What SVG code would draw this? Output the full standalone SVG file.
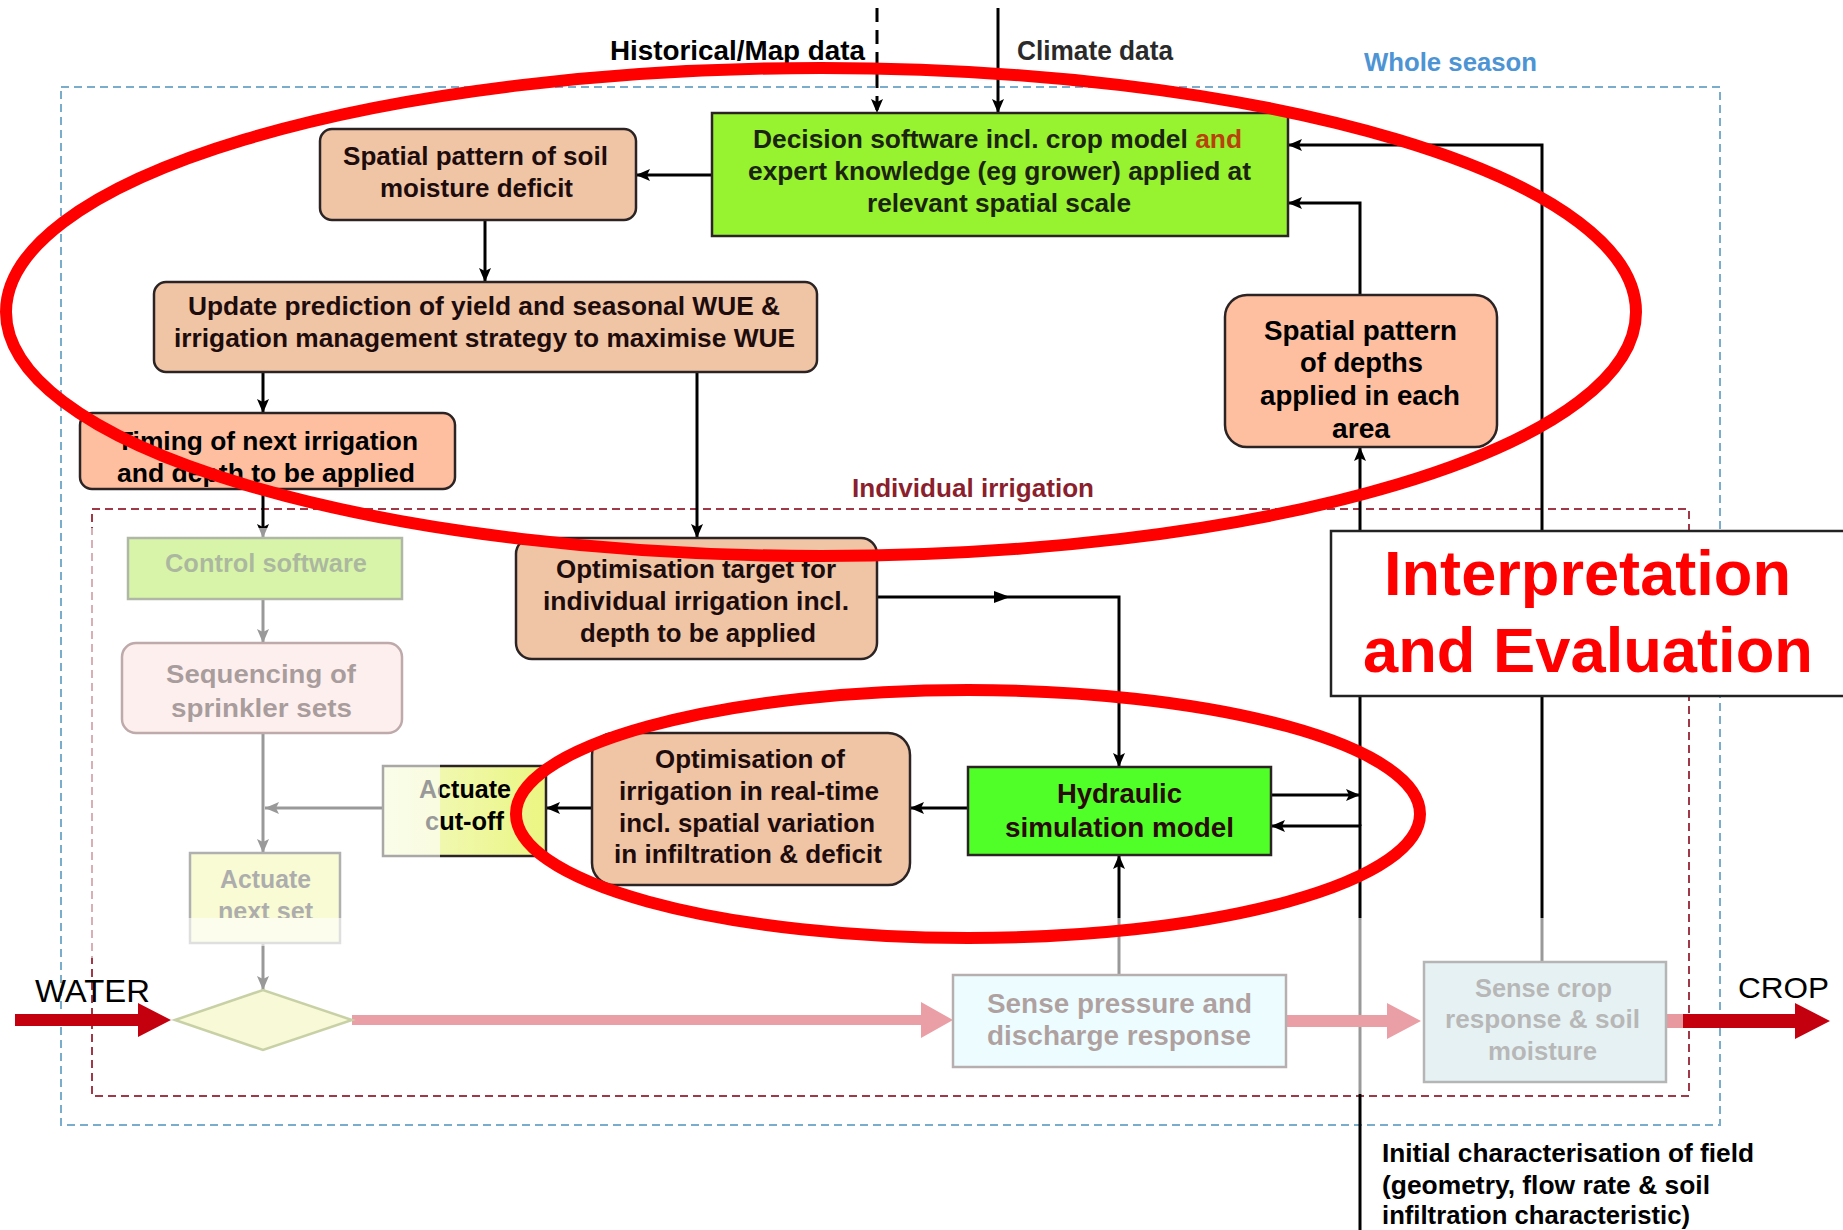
<svg xmlns="http://www.w3.org/2000/svg" width="1843" height="1230" viewBox="0 0 1843 1230">
  <defs>
    <marker id="ah" viewBox="0 0 14 12" refX="14" refY="6" markerWidth="14" markerHeight="12" markerUnits="userSpaceOnUse" orient="auto">
      <path d="M0,0 L14,6 L0,12 L3,6 z" fill="#000"/>
    </marker>
    <linearGradient id="yel" x1="0" y1="0" x2="1" y2="0">
      <stop offset="0" stop-color="#f3f9c8"/>
      <stop offset="1" stop-color="#ebf682"/>
    </linearGradient>
    <clipPath id="cutNext">
      <rect x="180" y="850" width="170" height="68"/>
    </clipPath>
  </defs>
  <style>
    .t{font-family:"Liberation Sans",Arial,sans-serif;font-weight:bold;fill:#1e0c0c}
    .n{font-family:"Liberation Sans",Arial,sans-serif;fill:#000}
    .box{stroke:#2c2424;stroke-width:2.5}
    .tan{fill:#efc5a6}
    .salmon{fill:#fdbfa0}
    .conn{fill:none;stroke:#000;stroke-width:3}
    .fade{fill:#fff;opacity:0.6}
    .ring{fill:none;stroke:#ff0000;stroke-width:12}
  </style>

  <rect width="1843" height="1230" fill="#fff"/>

  <!-- scope frames -->
  <g id="frames">
    <rect x="61" y="87" width="1659" height="1038" fill="none" stroke="#7aaccc" stroke-width="2" stroke-dasharray="8 5"/>
    <text x="1364" y="71" class="t" font-size="26" style="fill:#4d94d4" textLength="173" lengthAdjust="spacingAndGlyphs">Whole season</text>
    <rect x="92" y="509" width="1597" height="587" fill="none" stroke="#a03848" stroke-width="2" stroke-dasharray="8 5"/>
    <text x="852" y="497" class="t" font-size="25" style="fill:#8b1f2d" textLength="242" lengthAdjust="spacingAndGlyphs">Individual irrigation</text>
  </g>

  <!-- inputs -->
  <g id="inputs">
    <text x="610" y="60" class="t" font-size="27" style="fill:#000" textLength="255" lengthAdjust="spacingAndGlyphs">Historical/Map data</text>
    <text x="1017" y="60" class="t" font-size="27" style="fill:#2a2a2a" textLength="156" lengthAdjust="spacingAndGlyphs">Climate data</text>
    <text x="35" y="1002" class="n" font-size="31" textLength="115" lengthAdjust="spacingAndGlyphs">WATER</text>
    <text x="1738" y="998" class="n" font-size="30" textLength="91" lengthAdjust="spacingAndGlyphs">CROP</text>
    <g class="t" font-size="25" style="fill:#000">
      <text x="1382" y="1162" textLength="372" lengthAdjust="spacingAndGlyphs">Initial characterisation of field</text>
      <text x="1382" y="1194" textLength="328" lengthAdjust="spacingAndGlyphs">(geometry, flow rate &amp; soil</text>
      <text x="1382" y="1224" textLength="308" lengthAdjust="spacingAndGlyphs">infiltration characteristic)</text>
    </g>
  </g>

  <!-- connectors -->
  <g id="connectors">
    <path class="conn" d="M877,8 V113" stroke-dasharray="14 8" marker-end="url(#ah)"/>
    <path class="conn" d="M998,8 V113" marker-end="url(#ah)"/>
    <path class="conn" d="M712,175 H636" stroke-width="3.5" marker-end="url(#ah)"/>
    <path class="conn" d="M485,220 V282" marker-end="url(#ah)"/>
    <path class="conn" d="M263,372 V413" marker-end="url(#ah)"/>
    <path class="conn" d="M697,372 V538" marker-end="url(#ah)"/>
    <path class="conn" d="M263,489 V538" marker-end="url(#ah)"/>
    <path class="conn" d="M263,599 V643" marker-end="url(#ah)"/>
    <path class="conn" d="M263,733 V853" marker-end="url(#ah)"/>
    <path class="conn" d="M383,808 H265" marker-end="url(#ah)"/>
    <path class="conn" d="M263,943 V990" marker-end="url(#ah)"/>
    <path class="conn" d="M877,597 H1119 V767" marker-end="url(#ah)"/>
    <polygon points="994,591 1010,597 994,603" fill="#000"/>
    <path class="conn" d="M968,808 H910" marker-end="url(#ah)"/>
    <path class="conn" d="M592,808 H546" marker-end="url(#ah)"/>
    <path class="conn" d="M1119,975 V855" marker-end="url(#ah)"/>
    <path class="conn" d="M1271,795 H1360" marker-end="url(#ah)"/>
    <path class="conn" d="M1360,1230 V826 H1271" marker-end="url(#ah)"/>
    <path class="conn" d="M1360,826 V447" marker-end="url(#ah)"/>
    <path class="conn" d="M1360,295 V203 H1288" marker-end="url(#ah)"/>
    <path class="conn" d="M1542,962 V145 H1288" marker-end="url(#ah)"/>
    <!-- water flow -->
    <polygon points="15,1014 138,1014 138,1003 171,1020 138,1037 138,1026 15,1026" fill="#c4000f"/>
    <polygon points="352,1015 921,1015 921,1002 953,1020 921,1038 921,1025 352,1025" fill="#c81020"/>
    <polygon points="1286,1015 1387,1015 1387,1003 1421,1021 1387,1039 1387,1027 1286,1027" fill="#c81020"/>
    <polygon points="1666,1014 1795,1014 1795,1003 1830,1021 1795,1039 1795,1028 1666,1028" fill="#c4000f"/>
  </g>

  <!-- nodes -->
  <g id="decision">
    <rect x="712" y="113" width="576" height="123" fill="#97f230" class="box"/>
    <g class="t" font-size="25" style="fill:#1b2410">
      <text x="753" y="148" textLength="489" lengthAdjust="spacingAndGlyphs">Decision software incl. crop model <tspan style="fill:#b8420c">and</tspan></text>
      <text x="748" y="180" textLength="503" lengthAdjust="spacingAndGlyphs">expert knowledge (eg grower) applied at</text>
      <text x="867" y="212" textLength="264" lengthAdjust="spacingAndGlyphs">relevant spatial scale</text>
    </g>
  </g>

  <g id="soil-deficit">
    <rect x="320" y="129" width="316" height="91" rx="12" class="box tan"/>
    <g class="t" font-size="25">
      <text x="343" y="165" textLength="265" lengthAdjust="spacingAndGlyphs">Spatial pattern of soil</text>
      <text x="380" y="197" textLength="193" lengthAdjust="spacingAndGlyphs">moisture deficit</text>
    </g>
  </g>

  <g id="update-prediction">
    <rect x="154" y="282" width="663" height="90" rx="12" class="box tan"/>
    <g class="t" font-size="25">
      <text x="188" y="315" textLength="592" lengthAdjust="spacingAndGlyphs">Update prediction of yield and seasonal WUE &amp;</text>
      <text x="174" y="347" textLength="621" lengthAdjust="spacingAndGlyphs">irrigation management strategy to maximise WUE</text>
    </g>
  </g>

  <g id="timing">
    <rect x="80" y="413" width="375" height="76" rx="12" class="box salmon"/>
    <g class="t" font-size="26" style="fill:#000">
      <text x="117" y="450" textLength="301" lengthAdjust="spacingAndGlyphs">Timing of next irrigation</text>
      <text x="117" y="482" textLength="298" lengthAdjust="spacingAndGlyphs">and depth to be applied</text>
    </g>
  </g>

  <g id="depths-applied">
    <rect x="1225" y="295" width="272" height="152" rx="22" class="box salmon"/>
    <g class="t" font-size="28" style="fill:#000">
      <text x="1264" y="340" textLength="193" lengthAdjust="spacingAndGlyphs">Spatial pattern</text>
      <text x="1300" y="372" textLength="123" lengthAdjust="spacingAndGlyphs">of depths</text>
      <text x="1260" y="405" textLength="200" lengthAdjust="spacingAndGlyphs">applied in each</text>
      <text x="1332" y="438" textLength="58" lengthAdjust="spacingAndGlyphs">area</text>
    </g>
  </g>

  <g id="optimisation-target">
    <rect x="516" y="538" width="361" height="121" rx="16" class="box tan"/>
    <g class="t" font-size="25">
      <text x="556" y="578" textLength="280" lengthAdjust="spacingAndGlyphs">Optimisation target for</text>
      <text x="543" y="610" textLength="306" lengthAdjust="spacingAndGlyphs">individual irrigation incl.</text>
      <text x="580" y="642" textLength="236" lengthAdjust="spacingAndGlyphs">depth to be applied</text>
    </g>
  </g>

  <g id="control-software">
    <rect x="128" y="538" width="274" height="61" fill="#9fe42a" stroke="#3a4d25" stroke-width="2.5"/>
    <text x="165" y="572" class="t" font-size="25" style="fill:#2f4f10" textLength="202" lengthAdjust="spacingAndGlyphs">Control software</text>
  </g>

  <g id="sequencing">
    <rect x="122" y="643" width="280" height="90" rx="14" fill="#fad8d3" stroke="#5e2b2b" stroke-width="2.5"/>
    <g class="t" font-size="26" style="fill:#2a0808">
      <text x="166" y="683" textLength="190" lengthAdjust="spacingAndGlyphs">Sequencing of</text>
      <text x="171" y="717" textLength="181" lengthAdjust="spacingAndGlyphs">sprinkler sets</text>
    </g>
  </g>

  <g id="actuate-cutoff">
    <rect x="383" y="766" width="163" height="90" fill="url(#yel)" class="box"/>
    <g class="t" font-size="25" style="fill:#000">
      <text x="419" y="798" textLength="92" lengthAdjust="spacingAndGlyphs">Actuate</text>
      <text x="425" y="830" textLength="79" lengthAdjust="spacingAndGlyphs">cut-off</text>
    </g>
  </g>

  <g id="optimisation-realtime">
    <rect x="592" y="733" width="318" height="152" rx="22" class="box tan"/>
    <g class="t" font-size="25">
      <text x="655" y="768" textLength="190" lengthAdjust="spacingAndGlyphs">Optimisation of</text>
      <text x="619" y="800" textLength="260" lengthAdjust="spacingAndGlyphs">irrigation in real-time</text>
      <text x="619" y="832" textLength="256" lengthAdjust="spacingAndGlyphs">incl. spatial variation</text>
      <text x="614" y="863" textLength="268" lengthAdjust="spacingAndGlyphs">in infiltration &amp; deficit</text>
    </g>
  </g>

  <g id="hydraulic-model">
    <rect x="968" y="767" width="303" height="88" fill="#50ff28" class="box"/>
    <g class="t" font-size="27" style="fill:#2a0a0a">
      <text x="1057" y="803" textLength="125" lengthAdjust="spacingAndGlyphs">Hydraulic</text>
      <text x="1005" y="837" textLength="229" lengthAdjust="spacingAndGlyphs">simulation model</text>
    </g>
  </g>

  <g id="actuate-next">
    <rect x="190" y="853" width="150" height="90" fill="#eef592" stroke="#3a3a3a" stroke-width="2.5"/>
    <g class="t" font-size="25" style="fill:#333">
      <text x="220" y="888" textLength="91" lengthAdjust="spacingAndGlyphs">Actuate</text>
      <text x="218" y="920" textLength="95" lengthAdjust="spacingAndGlyphs" clip-path="url(#cutNext)">next set</text>
    </g>
  </g>

  <g id="valve">
    <polygon points="175,1020 263,990 352,1020 263,1050" fill="#eef09a" stroke="#778a20" stroke-width="2.5"/>
  </g>

  <g id="sense-pressure">
    <rect x="953" y="975" width="333" height="92" fill="#d2fbff" stroke="#4d3838" stroke-width="2.5"/>
    <g class="t" font-size="28" style="fill:#3a1414">
      <text x="987" y="1013" textLength="265" lengthAdjust="spacingAndGlyphs">Sense pressure and</text>
      <text x="987" y="1045" textLength="264" lengthAdjust="spacingAndGlyphs">discharge response</text>
    </g>
  </g>

  <g id="sense-crop">
    <rect x="1424" y="962" width="242" height="120" fill="#c0dde2" stroke="#484848" stroke-width="2.5"/>
    <g class="t" font-size="26" style="fill:#4d4d4d">
      <text x="1475" y="997" textLength="137" lengthAdjust="spacingAndGlyphs">Sense crop</text>
      <text x="1445" y="1028" textLength="195" lengthAdjust="spacingAndGlyphs">response &amp; soil</text>
      <text x="1488" y="1060" textLength="109" lengthAdjust="spacingAndGlyphs">moisture</text>
    </g>
  </g>

  <!-- dimmed operational layer -->
  <g id="dimmed">
    <rect class="fade" x="88" y="528" width="352" height="390"/>
    <rect class="fade" x="88" y="918" width="84" height="40"/>
    <rect class="fade" x="172" y="918" width="1511" height="176"/>
    <rect x="186" y="918" width="158" height="28" fill="#fff" opacity="0.6"/>
  </g>

  <!-- highlight rings -->
  <g id="highlights">
    <ellipse class="ring" cx="821" cy="312" rx="815" ry="244"/>
    <ellipse class="ring" cx="968" cy="814" rx="452" ry="124"/>
  </g>

  <g id="interpretation">
    <rect x="1331" y="531" width="520" height="165" fill="#fff" stroke="#222" stroke-width="2.5"/>
    <g class="t" font-size="63" style="fill:#ff0000">
      <text x="1384" y="595" textLength="407" lengthAdjust="spacingAndGlyphs">Interpretation</text>
      <text x="1363" y="672" textLength="450" lengthAdjust="spacingAndGlyphs">and Evaluation</text>
    </g>
  </g>
</svg>
